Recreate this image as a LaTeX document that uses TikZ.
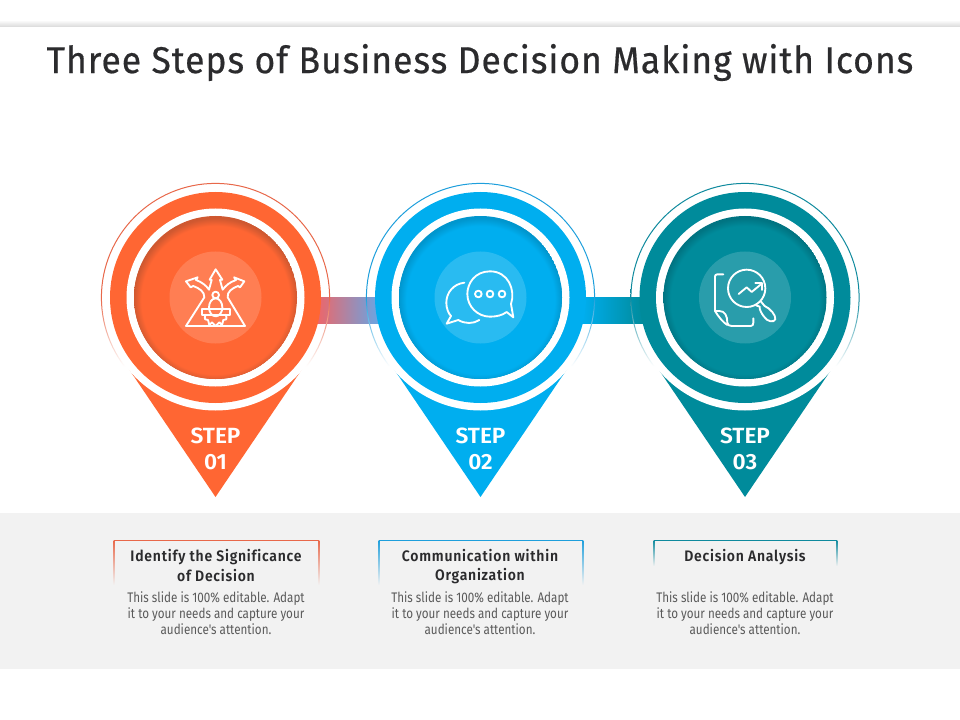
\documentclass[tikz,border=0pt]{standalone}
\usepackage{fontspec}
\usetikzlibrary{calc}
\newfontfamily\titlefont[FakeStretch=0.95,LetterSpace=2.7,FakeBold=0.5]{Fira Sans}
\newfontfamily\headfont[FakeStretch=0.92,LetterSpace=5,Ligatures=NoCommon]{Fira Sans SemiBold}
\newfontfamily\stepfont[FakeStretch=1.03]{Fira Sans SemiBold}
\newfontfamily\bodyfont[FakeStretch=0.84]{Fira Sans}
\definecolor{orangeM}{HTML}{FF6633}
\definecolor{blueM}{HTML}{00AEEF}
\definecolor{tealM}{HTML}{008B9B}
\definecolor{orangeD}{HTML}{CF5830}
\definecolor{blueD}{HTML}{0096CE}
\definecolor{tealD}{HTML}{007482}
\definecolor{orangeR}{HTML}{E8684A}
\definecolor{blueR}{HTML}{1E9FDC}
\definecolor{tealR}{HTML}{0F8A9E}
\definecolor{panel}{HTML}{F2F2F2}
\definecolor{inkT}{HTML}{2B2B2D}
\definecolor{inkB}{HTML}{5A5A5A}
\definecolor{bandL}{HTML}{EE6668}
\definecolor{bandR}{HTML}{66A6E6}
\pgfdeclareradialshading{innerorange}{\pgfqpoint{0bp}{0bp}}{color(0bp)=(orangeM); color(22.6bp)=(orangeM); color(25bp)=(orangeD); color(50bp)=(orangeD)}
\pgfdeclareradialshading{innerblue}{\pgfqpoint{0bp}{0bp}}{color(0bp)=(blueM); color(22.6bp)=(blueM); color(25bp)=(blueD); color(50bp)=(blueD)}
\pgfdeclareradialshading{innerteal}{\pgfqpoint{0bp}{0bp}}{color(0bp)=(tealM); color(22.6bp)=(tealM); color(25bp)=(tealD); color(50bp)=(tealD)}
\pgfdeclareverticalshading{ringorange}{100bp}{color(0bp)=(white); color(35bp)=(white); color(50bp)=(orangeR); color(100bp)=(orangeR)}
\pgfdeclareverticalshading{ringblue}{100bp}{color(0bp)=(white); color(35bp)=(white); color(50bp)=(blueR); color(100bp)=(blueR)}
\pgfdeclareverticalshading{ringteal}{100bp}{color(0bp)=(white); color(35bp)=(white); color(50bp)=(tealR); color(100bp)=(tealR)}
\tikzset{
  disc/.style={circle,inner sep=0pt,minimum size={#1*0.75pt}},
  icon/.style={draw=white,line width=1.4pt,line join=round,line cap=round,fill=none},
  steplabel/.style={text=white,align=center,font=\stepfont\fontsize{16.5pt}{19.5pt}\selectfont},
  headlabel/.style={text=inkT,align=center,font=\headfont\fontsize{11.4pt}{14.4pt}\selectfont},
  bodylabel/.style={text=inkB,align=center,font=\bodyfont\fontsize{10.4pt}{12.2pt}\selectfont},
}
% #1 id, #2 cx, #3 colour stem
\newcommand\pinbase[3]{%
  \fill[#3M] (#2-87,368.5) -- (#2+87,368.5) -- (#2,497) -- cycle;
  \node[disc=226,fill=white] (w#1) at (#2,297.5) {};
}
\newcommand\pintop[4]{%
  \begin{scope}
    \clip (#2-120,170) rectangle (#2+120,368);
    \shade[even odd rule,shading=ring#3] (#2,297.5) circle[radius=114.6] circle[radius=113.6];
  \end{scope}
  \node[disc=211,fill=#3M] (o#1) at (#2,297.5) {};
  \node[disc=178,fill=white] (r#1) at (#2,297.5) {};
  \begin{scope}
    \clip (#2,297.5) circle[radius=81.5];
    \fill[#3D] (#2,297.5) circle[radius=81.5];
    \shade[shading=inner#3] (#2,300) circle[radius=82];
  \end{scope}
  \node[disc=92,fill=white,fill opacity=0.16] (h#1) at (#2,297.5) {};
  \node[steplabel] (s#1) at (#2,449) {STEP\\#4};
}
\begin{document}
\begin{tikzpicture}[x=0.75pt,y=-0.75pt]
\useasboundingbox (0,0) rectangle (960,720);
\fill[white] (0,0) rectangle (960,720);
\shade[top color=white,bottom color=black!14] (0,20) rectangle (960,26.5);
\node[text=inkT,font=\titlefont\fontsize{28pt}{32pt}\selectfont] (title) at (480,62.5) {Three Steps of Business Decision Making with Icons};
\fill[panel] (0,513) rectangle (960,669);

\pinbase{1}{215.5}{orange}
\pinbase{2}{480.5}{blue}
\pinbase{3}{745}{teal}
\shade[left color=bandL,right color=bandR]
  ($(w1.east)+(-12,0)$) rectangle ($(w2.west)+(12,25.5)$);
\shade[left color=blueM,right color=tealM]
  ($(w2.east)+(-12,0)$) rectangle ($(w3.west)+(12,25.5)$);
\pintop{1}{215.5}{orange}{01}
\pintop{2}{480.5}{blue}{02}
\pintop{3}{745}{teal}{03}

% icon 1
\begin{scope}[shift={(160,240)},x=0.25pt,y=-0.25pt]
  \draw[icon] (78,258) -- (133,172) .. controls (134,155) and (118,145) .. (100,138) -- (92,142) -- (78,124)
    -- (113,112) -- (108,120) .. controls (125,126) and (138,136) .. (147,149) -- (155,120) -- (149,119)
    -- (167,88) -- (187,119) -- (180,120) -- (188,149) .. controls (198,136) and (210,126) .. (228,120)
    -- (222,112) -- (253,124) -- (240,142) -- (234,138) .. controls (216,145) and (201,155) .. (203,172)
    -- (255,258) -- cycle;
  \draw[icon] (167,165) circle[radius=10];
  \draw[icon] (167,202) ellipse[x radius=20,y radius=27];
  \draw[icon] (125,208) -- (210,208) -- (210,224) -- (125,224) -- cycle;
  \draw[icon] (137,224) .. controls (130,238) and (138,242) .. (144,240) -- (148,255) -- (156,247)
     -- (167,258) -- (178,247) -- (186,255) -- (190,240) .. controls (196,242) and (204,238) .. (197,224);
\end{scope}
% icon 2
\begin{scope}[shift={(425,240)},x=0.25pt,y=-0.25pt]
  \draw[icon] (245,216) -- (265,232) -- (258,192)
    .. controls (272,150) and (250,94) .. (195,94)
    .. controls (150,94) and (127,130) .. (127,162)
    .. controls (127,200) and (158,230) .. (195,230)
    .. controls (214,230) and (232,226) .. (245,216);
  \draw[icon] (118,128) .. controls (85,132) and (64,158) .. (64,188)
    .. controls (64,205) and (70,220) .. (78,228) -- (65,251) -- (100,240)
    .. controls (120,252) and (145,252) .. (163,240);
  \draw[icon] (160,162) circle[radius=10];
  \draw[icon] (195,162) circle[radius=10];
  \draw[icon] (231,162) circle[radius=10];
\end{scope}
% icon 3
\begin{scope}[shift={(690,240)},x=0.25pt,y=-0.25pt]
  \draw[icon] (100,103) -- (82,103) .. controls (77,103) and (75,106) .. (75,110) -- (75,213)
     -- (88,213) .. controls (105,213) and (112,228) .. (112,248) .. controls (112,255) and (118,258) .. (125,258) -- (182,258)
     .. controls (188,258) and (190,254) .. (190,248) -- (190,235);
  \draw[icon] (75,213) .. controls (85,230) and (100,248) .. (112,255);
  \draw[icon] (170,145) circle[radius=56];
  \draw[icon] (213,185) -- (224,198) .. controls (240,205) and (258,225) .. (256,238)
     .. controls (252,248) and (232,246) .. (222,230) .. controls (214,220) and (208,208) .. (209,200) -- (198,196);
  \draw[icon] (146,162) -- (170,142) -- (185,156) -- (214,132);
  \draw[icon] (196,130) -- (216,130) -- (216,150);
\end{scope}

% text boxes
\newcommand\bracket[4]{%
  \draw[#3,line width=0.7pt] (#1,540) -- (#2,540);
  \shade[top color=#3,bottom color=panel] (#1-0.35,540) rectangle (#1+0.35,#4);
  \shade[top color=#3,bottom color=panel] (#2-0.35,540) rectangle (#2+0.35,#4);
}
\bracket{114}{319}{orangeR}{585}
\bracket{379}{583}{blueR}{585}
\bracket{654}{837}{tealR}{566}

\node[headlabel] (h1t) at (216,565.5) {Identify the Significance\\of Decision};
\node[headlabel] (h2t) at (480,566.5) {Communication within\\Organization};
\node[headlabel] (h3t) at (745,557.5) {Decision Analysis};
\node[bodylabel] (b1t) at (216,613) {This slide is 100\% editable. Adapt\\it to your needs and capture your\\audience's attention.};
\node[bodylabel] (b2t) at (480,613) {This slide is 100\% editable. Adapt\\it to your needs and capture your\\audience's attention.};
\node[bodylabel] (b3t) at (745,613) {This slide is 100\% editable. Adapt\\it to your needs and capture your\\audience's attention.};
\end{tikzpicture}
\end{document}
